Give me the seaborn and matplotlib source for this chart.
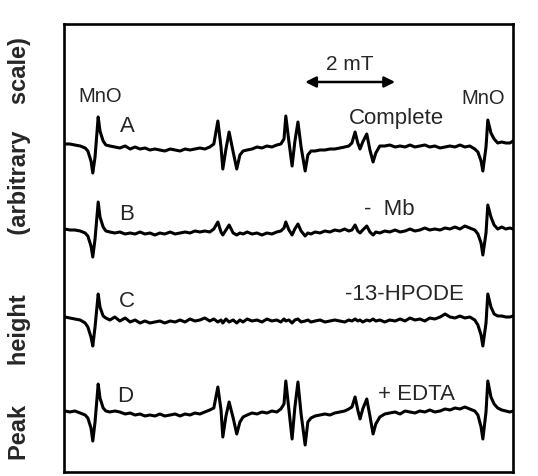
import numpy as np
import pandas as pd
import matplotlib
matplotlib.use("Agg")
import matplotlib.pyplot as plt
import seaborn as sns

# Magnetic field (mT, relative to left edge of the sweep)
field_mT = [0.02, 0.13, 0.24, 0.36, 0.47, 0.53, 0.60, 0.64, 0.69, 0.76, 0.80, 0.87, 0.93,
            1.02, 1.13, 1.24, 1.36, 1.47, 1.58, 1.69, 1.80, 1.91, 2.02, 2.13, 2.24, 2.36,
            2.47, 2.58, 2.69, 2.80, 2.91, 3.02, 3.13, 3.24, 3.33, 3.42, 3.49, 3.53, 3.60,
            3.67, 3.76, 3.84, 3.91, 3.98, 4.07, 4.18, 4.29, 4.40, 4.51, 4.62, 4.73, 4.82,
            4.89, 4.93, 5.00, 5.07, 5.13, 5.20, 5.27, 5.36, 5.42, 5.49, 5.58, 5.69, 5.80,
            5.91, 6.02, 6.13, 6.24, 6.33, 6.40, 6.47, 6.53, 6.58, 6.64, 6.73, 6.80, 6.87,
            6.93, 7.02, 7.13, 7.24, 7.36, 7.47, 7.58, 7.69, 7.80, 7.91, 8.02, 8.13, 8.24,
            8.36, 8.47, 8.58, 8.69, 8.80, 8.91, 9.02, 9.13, 9.20, 9.27, 9.31, 9.38, 9.42,
            9.49, 9.56, 9.64, 9.73, 9.82, 9.91, 9.98]

# Spectrum A: Complete
sig_A = [3, 3, 2, 1, -1, -4, -14, -26, -10, 30, 16, 6, 2,
         1, 0, -1, 1, -2, 0, -2, -1, -3, -2, -3, -4, -2,
         -3, -4, -2, -3, -2, -1, -2, 0, 3, 26, 0, -22, -2,
         15, -5, -22, -8, -4, -3, -2, 0, -1, 1, 0, 2, 3,
         8, 31, 5, -19, 5, 25, 0, -24, -8, -4, -4, -3, -3,
         -2, -2, -1, 0, 1, 4, 15, 4, -2, 5, 13, -3, -15,
         -6, 1, 1, 2, 0, 1, 0, 2, 0, 1, 2, 0, 1,
         -1, 0, 1, 0, 2, 0, 1, -2, -5, -14, -24, 0, 27,
         14, 8, 4, 5, 4, 4, 6]

# Spectrum B: - Mb
sig_B = [2, 1, 1, 0, -2, -5, -15, -26, -8, 29, 14, 4, 0,
         -1, -2, -1, -3, -2, -3, -1, -3, -2, -4, -2, -3, -1,
         -3, -2, -1, -2, 0, -1, 0, -1, 2, 9, -1, -4, 1,
         6, -2, -4, -2, -3, -1, -3, -2, -4, -2, -3, -1, 0,
         3, 9, 1, -4, 2, 7, 0, -5, -2, -3, -1, -2, 0,
         -1, 1, 0, 2, 0, 1, 6, 0, -2, 1, 5, -1, -4,
         -1, -2, 0, -1, 1, -1, 0, 2, 0, 1, 3, 1, 2,
         1, 3, 2, 4, 2, 5, 3, 1, -3, -12, -24, -2, 26,
         14, 6, 2, 4, 2, 3, 2]

# Spectrum C: -13-HPODE
sig_C = [2, 1, 0, -1, -4, -8, -18, -27, -8, 25, 12, 3, 1,
         -1, 2, -2, 1, -3, -1, -4, -2, -4, -3, -2, -4, -2,
         -3, -1, -3, 0, -2, -1, 1, -2, 0, -3, -1, -4, 0,
         -3, -1, -4, -1, -3, 0, -2, -1, -3, 0, -2, -1, -3,
         0, -2, -1, -4, -1, 0, -3, -2, -1, -3, -2, -1, -3,
         -2, -1, -2, -3, -1, -2, 0, -2, -1, -3, -1, -2, 0,
         -2, -1, -3, -1, -2, 0, -2, 1, -1, 0, -2, 1, 0,
         2, 5, 2, 1, 3, 1, 2, -1, -6, -16, -27, -4, 25,
         12, 5, 3, 3, 2, 2, 3]

# Spectrum D: + EDTA
sig_D = [1, 0, 1, -1, -3, -6, -16, -29, -10, 28, 14, 4, 1,
         0, 1, 0, -2, -1, -3, -2, -4, -3, -4, -2, -4, -3,
         -2, -4, -2, -3, -1, -2, 0, 2, 4, 25, 2, -25, -4,
         10, -6, -22, -10, -5, -3, -1, -2, 0, -1, 1, 0, 3,
         8, 31, 2, -27, 4, 30, -2, -33, -10, -6, -4, -3, -2,
         -3, -1, 0, 1, 3, 5, 15, 2, -7, 3, 13, -4, -22,
         -12, -5, -2, -1, 0, -2, 1, 0, -1, 1, 0, 2, 0,
         1, 3, 2, 4, 3, 5, 3, 1, -3, -15, -27, 0, 31,
         15, 8, 4, 2, 1, 0, 1]

spectra = ["A", "B", "C", "D"]
signals = [sig_A, sig_B, sig_C, sig_D]
conditions = ["Complete", "-  Mb", "-13-HPODE", "+ EDTA"]
baselines = [325, 241, 153, 60]   # vertical stacking offsets

for s in signals:
    assert len(s) == len(field_mT), len(s)

frames = []
for name, sig, base in zip(spectra, signals, baselines):
    frames.append(pd.DataFrame({"field": field_mT,
                                "signal": np.asarray(sig, float) + base,
                                "spectrum": name}))
df = pd.concat(frames, ignore_index=True)

sns.set_style("white")
plt.rcParams["font.family"] = ["Liberation Sans", "DejaVu Sans"]

fig = plt.figure(figsize=(5.38, 4.77), dpi=100)
ax = fig.add_axes([64 / 538, 1 - 473 / 477, 449 / 538, 448 / 477])

sns.lineplot(data=df, x="field", y="signal", units="spectrum", estimator=None,
             sort=False, color="black", lw=2.2, ax=ax, legend=False)

ax.set_xlim(0, 9.98)
ax.set_ylim(0, 448)
ax.set_xticks([])
ax.set_yticks([])
ax.set_xlabel("")
for sp in ax.spines.values():
    sp.set_visible(True)
    sp.set_color("black")
    sp.set_linewidth(1.9)

ax.set_ylabel("Peak      height         (arbitrary    scale)",
              fontsize=17, fontweight="bold")
ax.yaxis.label.set_va("center")
ax.yaxis.set_label_coords(-(64 - 20) / 449, 0.5)

# Trace letters and condition labels
letter_pos = [(1.42, 346), (1.38, 258), (1.40, 171), (1.36, 76)]
cond_pos = [(7.40, 354), (7.22, 263), (7.56, 178), (7.84, 78)]
for name, (lx, ly), cond, (cx, cy) in zip(spectra, letter_pos, conditions, cond_pos):
    ax.text(lx, ly, name, fontsize=16, ha="center", va="center")
    ax.text(cx, cy, cond, fontsize=16, ha="center", va="center")

ax.text(0.80, 376, "MnO", fontsize=14.5, ha="center", va="center")
ax.text(9.31, 374, "MnO", fontsize=14.5, ha="center", va="center")

# 2 mT scale bar
ax.annotate("", xy=(5.36, 390), xytext=(7.36, 390),
            arrowprops=dict(arrowstyle="<|-|>", color="black", lw=1.8,
                            mutation_scale=16, shrinkA=0, shrinkB=0))
ax.text(6.36, 408, "2 mT", fontsize=15, ha="center", va="center")

fig.savefig("out.png", dpi=100)
